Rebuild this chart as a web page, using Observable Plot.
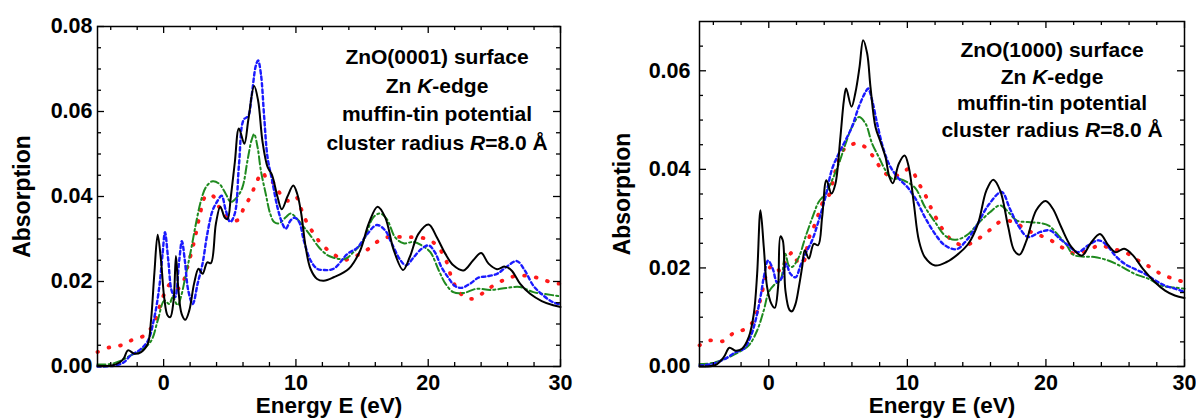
<!DOCTYPE html>
<html><head><meta charset="utf-8">
<script src="https://cdn.jsdelivr.net/npm/d3@7"></script>
<script src="https://cdn.jsdelivr.net/npm/@observablehq/plot@0.6"></script>
<style>
body{margin:0;background:#fff;}
#wrap{position:relative;width:1196px;height:419px;overflow:hidden;background:#fff;}
#wrap > div{position:absolute;top:0;}
</style></head><body><div id="wrap"><div id="pl" style="left:0"></div><div id="pr" style="left:590px"></div></div>
<script>
// ---------- data: [energy (eV), absorption] ----------
const leftBlack = [[-5,0.0002],[-4,0.0002],[-3.3,0.0010],[-3,0.0020],[-2.7,0.0038],[-2.2,0.0030],[-1.7,0.0034],[-1.2,0.0053],[-0.95,0.011],[-0.7,0.022],[-0.45,0.031],[-0.2,0.025],[0.05,0.016],[0.3,0.012],[0.5,0.0116],[0.75,0.0155],[0.93,0.026],[1.1,0.0187],[1.36,0.0124],[1.64,0.011],[1.94,0.0132],[2.3,0.0195],[2.64,0.023],[2.94,0.0218],[3.3,0.0245],[3.57,0.0243],[3.95,0.0336],[4.28,0.0376],[4.63,0.035],[4.83,0.0347],[5.08,0.040],[5.38,0.048],[5.69,0.056],[6.1,0.0524],[6.4,0.058],[6.84,0.066],[7.14,0.0626],[7.47,0.053],[7.85,0.047],[8.2,0.045],[8.6,0.040],[8.93,0.037],[9.36,0.040],[9.8,0.0426],[10.1,0.0406],[10.4,0.036],[10.74,0.028],[11.1,0.023],[11.6,0.0206],[12.1,0.0202],[12.85,0.021],[14,0.023],[14.86,0.0273],[15.5,0.0336],[16.17,0.0376],[16.75,0.0351],[17.4,0.0273],[18.1,0.0227],[18.6,0.0257],[19.26,0.0312],[20.03,0.0334],[20.65,0.0304],[21.3,0.0265],[21.9,0.0238],[22.67,0.0226],[23.4,0.025],[24,0.0267],[24.56,0.0242],[25.2,0.0229],[25.8,0.0235],[26.3,0.0226],[26.94,0.0195],[27.7,0.0171],[28.58,0.0154],[29.45,0.0144],[30,0.014]];
const leftBlue = [[-5,0],[-3.7,0.0002],[-3,0.001],[-2.5,0.0026],[-1.85,0.0038],[-1.2,0.006],[-0.7,0.0116],[-0.33,0.0187],[-0.08,0.0265],[0.1,0.0316],[0.35,0.025],[0.6,0.0179],[0.86,0.0163],[1.18,0.025],[1.38,0.0295],[1.6,0.025],[1.86,0.0179],[2.2,0.0147],[2.57,0.0195],[2.94,0.0242],[3.3,0.0312],[3.7,0.0367],[4.08,0.039],[4.38,0.0402],[4.7,0.0367],[5.03,0.034],[5.38,0.036],[5.7,0.0477],[6.04,0.058],[6.4,0.059],[6.64,0.0634],[6.97,0.0708],[7.14,0.072],[7.35,0.0689],[7.6,0.0587],[7.85,0.0493],[8.2,0.0438],[8.6,0.0375],[8.98,0.0336],[9.23,0.0324],[9.6,0.0344],[9.9,0.035],[10.24,0.034],[10.6,0.0296],[11.1,0.025],[11.6,0.023],[12.1,0.0227],[12.85,0.023],[13.9,0.0265],[14.65,0.028],[15.4,0.0312],[16.12,0.0333],[16.75,0.032],[17.25,0.0289],[17.9,0.025],[18.33,0.0238],[18.9,0.0257],[19.5,0.0277],[20.03,0.0285],[20.5,0.0269],[21,0.0234],[21.5,0.021],[22,0.019],[22.5,0.0185],[23.17,0.0195],[23.8,0.0209],[24.4,0.0212],[25.2,0.0218],[25.9,0.0234],[26.7,0.0248],[27.3,0.0226],[27.95,0.019],[28.7,0.0167],[29.45,0.0151],[30,0.0146]];
const leftGreen = [[-5,0.0005],[-4,0.0006],[-3.2,0.0014],[-2.5,0.0026],[-1.7,0.0038],[-0.95,0.006],[-0.45,0.0108],[0.05,0.0155],[0.43,0.0147],[0.68,0.0163],[1.06,0.0144],[1.3,0.0163],[1.69,0.0218],[2.06,0.0273],[2.44,0.0336],[2.82,0.039],[3.2,0.0422],[3.7,0.0436],[4.2,0.043],[4.7,0.0406],[5.08,0.0387],[5.58,0.040],[5.96,0.0422],[6.34,0.0485],[6.64,0.0532],[6.84,0.0547],[7.1,0.0516],[7.35,0.0461],[7.72,0.0406],[8.05,0.036],[8.35,0.034],[8.73,0.0337],[9.23,0.0351],[9.6,0.036],[10.1,0.0347],[10.6,0.0328],[11.1,0.0308],[11.75,0.028],[12.38,0.0262],[12.85,0.0256],[13.7,0.0253],[14.35,0.0269],[15.1,0.0296],[15.85,0.0351],[16.37,0.036],[16.87,0.0347],[17.5,0.0304],[18.14,0.029],[18.9,0.0293],[19.5,0.0285],[20.16,0.0269],[20.8,0.0226],[21.3,0.0195],[21.9,0.0175],[22.67,0.0173],[23.67,0.0183],[24.7,0.018],[25.95,0.0185],[26.94,0.0187],[27.95,0.0175],[28.95,0.017],[30,0.0165]];
const leftRed = [[-5,0.0034],[-4.1,0.0045],[-3.2,0.005],[-2.34,0.0063],[-1.46,0.0073],[-0.83,0.0096],[-0.5,0.012],[-0.2,0.0151],[0.18,0.0179],[0.55,0.0195],[1.06,0.0183],[1.43,0.0195],[1.8,0.0234],[2.3,0.0293],[2.7,0.0351],[3.2,0.0402],[3.7,0.0402],[4.2,0.0375],[4.83,0.0351],[5.58,0.0344],[6.09,0.0375],[6.6,0.0402],[6.97,0.043],[7.47,0.0457],[7.85,0.0438],[8.23,0.0434],[8.73,0.041],[9.36,0.039],[9.98,0.040],[10.4,0.037],[10.87,0.0336],[11.37,0.0312],[11.9,0.0289],[12.85,0.0264],[13.7,0.0251],[14.6,0.0261],[15.5,0.0277],[16.37,0.0298],[17.25,0.0306],[18.14,0.0304],[19,0.0304],[19.9,0.030],[20.65,0.0285],[21.3,0.0253],[21.85,0.0202],[22.4,0.0173],[23.2,0.0159],[24.05,0.0171],[24.9,0.019],[25.9,0.0206],[26.8,0.0214],[27.7,0.0212],[28.58,0.0206],[29.45,0.0196],[30,0.0195]];

const rightBlack = [[-5,0],[-3.85,0.0003],[-3.25,0.0019],[-2.84,0.0038],[-2.4,0.0032],[-1.93,0.0036],[-1.44,0.006],[-1.08,0.0107],[-0.84,0.0188],[-0.6,0.0317],[-0.36,0.0242],[-0.12,0.0161],[0.19,0.0127],[0.43,0.0119],[0.67,0.0161],[0.84,0.0264],[1.01,0.0256],[1.2,0.0154],[1.49,0.0115],[1.68,0.0112],[1.93,0.0127],[2.17,0.0161],[2.41,0.0202],[2.6,0.0236],[2.89,0.0219],[3.25,0.0249],[3.56,0.0246],[3.85,0.0303],[4.16,0.0378],[4.52,0.0351],[4.81,0.0371],[5.17,0.0466],[5.42,0.054],[5.58,0.0564],[5.97,0.0527],[6.26,0.0557],[6.55,0.0608],[6.81,0.0662],[7.1,0.0635],[7.34,0.0567],[7.7,0.0486],[8.06,0.0456],[8.42,0.0425],[8.71,0.0384],[8.95,0.0372],[9.39,0.0412],[9.8,0.0428],[10.1,0.0405],[10.47,0.033],[10.83,0.0256],[11.26,0.0222],[12,0.0205],[12.83,0.0212],[13.7,0.0229],[14.4,0.0249],[15.1,0.029],[15.7,0.0357],[16.2,0.0379],[16.7,0.0357],[17.28,0.0283],[17.7,0.0236],[18.1,0.0227],[18.6,0.0256],[19.3,0.0317],[19.98,0.0336],[20.5,0.032],[21.1,0.0283],[21.85,0.0242],[22.6,0.0225],[23.2,0.0249],[23.9,0.0269],[24.5,0.0246],[25.03,0.0232],[25.65,0.0239],[26.3,0.0225],[27,0.0198],[27.87,0.0171],[28.6,0.0154],[29.3,0.0144],[30,0.0139]];
const rightBlue = [[-5,0.0002],[-4.1,0.0005],[-3.13,0.0016],[-2.4,0.0029],[-1.8,0.0036],[-1.32,0.006],[-0.96,0.0093],[-0.6,0.0141],[-0.36,0.0181],[-0.05,0.0215],[0.29,0.0198],[0.6,0.0171],[0.96,0.0181],[1.25,0.0208],[1.56,0.0188],[1.93,0.0181],[2.29,0.0205],[2.65,0.0229],[3.13,0.0256],[3.6,0.0296],[4.09,0.0344],[4.57,0.0401],[5.05,0.0432],[5.54,0.0459],[6,0.0486],[6.5,0.0527],[6.98,0.0557],[7.17,0.0564],[7.46,0.054],[7.82,0.0493],[8.3,0.0439],[8.78,0.0405],[9.39,0.0381],[10,0.0364],[10.6,0.034],[11.26,0.0303],[12,0.0269],[12.7,0.0246],[13.55,0.0238],[14.27,0.0256],[15,0.0286],[15.84,0.0327],[16.8,0.0354],[17.4,0.032],[18,0.0286],[18.7,0.0263],[19.6,0.0273],[20.3,0.0276],[21,0.0259],[21.6,0.0246],[22.3,0.0232],[23.06,0.0246],[23.8,0.0256],[24.4,0.0246],[25,0.0225],[25.7,0.0208],[26.4,0.0198],[27.15,0.0188],[27.87,0.0175],[28.6,0.0164],[29.3,0.0158],[30,0.0151]];
const rightGreen = [[-5,0.0005],[-4.1,0.0007],[-3.13,0.0016],[-2.17,0.0029],[-1.44,0.0043],[-0.84,0.0073],[-0.36,0.0114],[0,0.0151],[0.48,0.0168],[0.84,0.0175],[1.2,0.0229],[1.44,0.0205],[1.68,0.0202],[2.17,0.0222],[2.65,0.0263],[3.25,0.031],[3.6,0.0334],[4.09,0.0351],[4.57,0.0378],[5.05,0.0411],[5.54,0.0452],[6,0.0486],[6.5,0.0506],[6.98,0.0493],[7.46,0.0452],[7.94,0.0425],[8.42,0.0398],[8.9,0.0381],[9.39,0.0381],[10,0.0374],[10.6,0.0361],[11.26,0.0324],[12,0.0293],[12.7,0.0266],[13.4,0.0257],[14.27,0.0266],[15.1,0.029],[15.96,0.0313],[16.7,0.0327],[17.3,0.0313],[17.9,0.0296],[18.7,0.0293],[19.6,0.0291],[20.2,0.0286],[20.9,0.0266],[21.5,0.0246],[21.97,0.0227],[22.6,0.0223],[23.5,0.0222],[24.5,0.0215],[25.5,0.0202],[26.4,0.0188],[27.4,0.0178],[28.35,0.0164],[29.3,0.016],[30,0.0158]];
const rightRed = [[-5,0.0043],[-4.2,0.0053],[-3.37,0.0051],[-2.53,0.0068],[-1.73,0.0076],[-1.08,0.0093],[-0.77,0.012],[-0.53,0.0144],[-0.24,0.0181],[0.12,0.0202],[0.48,0.0205],[0.84,0.0192],[1.25,0.0215],[1.73,0.0232],[2.17,0.0208],[2.5,0.0212],[2.89,0.026],[3.25,0.0283],[3.6,0.031],[3.97,0.0337],[4.33,0.0347],[4.69,0.0384],[5.05,0.0418],[5.54,0.0445],[5.9,0.0449],[6.3,0.0453],[6.74,0.0449],[7.2,0.0439],[7.7,0.0418],[8.3,0.0395],[8.9,0.0384],[9.5,0.0391],[10.2,0.0401],[10.83,0.0371],[11.26,0.035],[11.62,0.0327],[12.1,0.030],[12.6,0.0276],[13.3,0.0254],[14.15,0.0246],[15,0.0257],[15.96,0.0277],[16.8,0.0295],[17.7,0.0293],[18.6,0.0277],[19.4,0.0268],[20.3,0.0257],[21.2,0.0241],[22.1,0.0229],[23.06,0.0236],[23.9,0.0246],[24.7,0.0239],[25.7,0.0232],[26.66,0.0215],[27.5,0.0202],[28.35,0.0187],[29.2,0.0178],[30,0.0171]];

// ---------- axes / ticks / labels ----------
const xDomain = [-5, 30];
const xMajor = [0, 10, 20, 30];
const xMinor = [-4, -2, 2, 4, 6, 8, 12, 14, 16, 18, 22, 24, 26, 28];
const yDomainLeft = [0, 0.08];
const yMajorLeft = [0, 0.02, 0.04, 0.06, 0.08];
const yMinorLeft = [0.005, 0.01, 0.015, 0.025, 0.03, 0.035, 0.045, 0.05, 0.055, 0.065, 0.07, 0.075];
const yDomainRight = [0, 0.07];
const yMajorRight = [0, 0.02, 0.04, 0.06];
const yMinorRight = [0.005, 0.01, 0.015, 0.025, 0.03, 0.035, 0.045, 0.05, 0.055, 0.065];
const xLabel = "Energy E (eV)";
const yLabel = "Absorption";
const annotLeft = [[["ZnO(0001) surface"]], [["Zn "], ["K", true], ["-edge"]], [["muffin-tin potential"]], [["cluster radius "], ["R", true], ["=8.0 Å"]]];
const annotRight = [[["ZnO(1000) surface"]], [["Zn "], ["K", true], ["-edge"]], [["muffin-tin potential"]], [["cluster radius "], ["R", true], ["=8.0 Å"]]];

const FONT = "'Liberation Sans', Arial, Helvetica, sans-serif";

const seriesStyles = [
  {stroke: "#ff1a1a", strokeWidth: 3.8, strokeDasharray: "0.8 11", strokeLinecap: "round"},
  {stroke: "#1f8a1f", strokeWidth: 2, strokeDasharray: "8 3 2 3"},
  {stroke: "#1a1aff", strokeWidth: 2.4, strokeDasharray: "3.5 3"},
  {stroke: "#000000", strokeWidth: 2}
];

function annotationMark(lines, cx, y0, step) {
  return () => {
    const g = d3.create("svg:g")
      .attr("font-size", 21).attr("font-weight", "bold")
      .attr("text-anchor", "middle").attr("fill", "black");
    lines.forEach((segs, i) => {
      const t = g.append("text").attr("x", cx).attr("y", y0 + i * step);
      segs.forEach(([s, it]) => t.append("tspan").attr("font-style", it ? "italic" : null).text(s));
    });
    return g.node();
  };
}

function panel(o) {
  const plotW = o.width - o.ml - o.mr, plotH = o.height - o.mt - o.mb;
  const tk = {stroke: "black", strokeWidth: 1.3};
  return Plot.plot({
    width: o.width, height: o.height,
    marginLeft: o.ml, marginRight: o.mr, marginTop: o.mt, marginBottom: o.mb,
    style: {fontFamily: FONT, fontSize: "21.5px", fontWeight: "bold", background: "white", overflow: "visible", color: "black"},
    x: {domain: xDomain, ticks: xMajor, tickFormat: d => String(d), tickSize: 0, tickPadding: 8, label: null},
    y: {domain: o.yDomain, ticks: o.yMajor, tickFormat: d3.format(".2f"), tickSize: 0, tickPadding: o.ypad, label: null},
    marks: [
      ...o.series.map((s, i) => Plot.line(s, {x: d => d[0], y: d => d[1], curve: "catmull-rom", ...seriesStyles[i]})),
      Plot.tickX(xMajor, {x: d => d, insetTop: plotH - 7, ...tk}),
      Plot.tickX(xMajor, {x: d => d, insetBottom: plotH - 7, ...tk}),
      Plot.tickX(xMinor, {x: d => d, insetTop: plotH - 4, ...tk}),
      Plot.tickX(xMinor, {x: d => d, insetBottom: plotH - 4, ...tk}),
      Plot.tickY(o.yMajor, {y: d => d, insetRight: plotW - 7, ...tk}),
      Plot.tickY(o.yMajor, {y: d => d, insetLeft: plotW - 7, ...tk}),
      Plot.tickY(o.yMinor, {y: d => d, insetRight: plotW - 4, ...tk}),
      Plot.tickY(o.yMinor, {y: d => d, insetLeft: plotW - 4, ...tk}),
      Plot.frame({stroke: "black", strokeWidth: 1.5}),
      Plot.text([xLabel], {text: d => d, frameAnchor: "bottom", dy: 39, fontSize: 22.5, fontWeight: "bold", lineAnchor: "middle", textAnchor: "middle"}),
      Plot.text([yLabel], {text: d => d, frameAnchor: "left", dx: -(o.ml - o.ylabX), rotate: -90, fontSize: 23, fontWeight: "bold", lineAnchor: "middle", textAnchor: "middle"}),
      annotationMark(o.annot, o.annX, o.annY, o.annStep)
    ]
  });
}

document.getElementById("pl").appendChild(panel({
  width: 590, height: 419, ml: 97, mr: 30, mt: 26, mb: 53,
  yDomain: yDomainLeft, yMajor: yMajorLeft, yMinor: yMinorLeft, ypad: 5, ylabX: 22,
  series: [leftRed, leftGreen, leftBlue, leftBlack],
  annot: annotLeft, annX: 437, annY: 64, annStep: 28.7
}));
document.getElementById("pr").appendChild(panel({
  width: 606, height: 419, ml: 109, mr: 12, mt: 21, mb: 53,
  yDomain: yDomainRight, yMajor: yMajorRight, yMinor: yMinorRight, ypad: 9, ylabX: 32,
  series: [rightRed, rightGreen, rightBlue, rightBlack],
  annot: annotRight, annX: 462, annY: 57, annStep: 26.7
}));
</script></body></html>
